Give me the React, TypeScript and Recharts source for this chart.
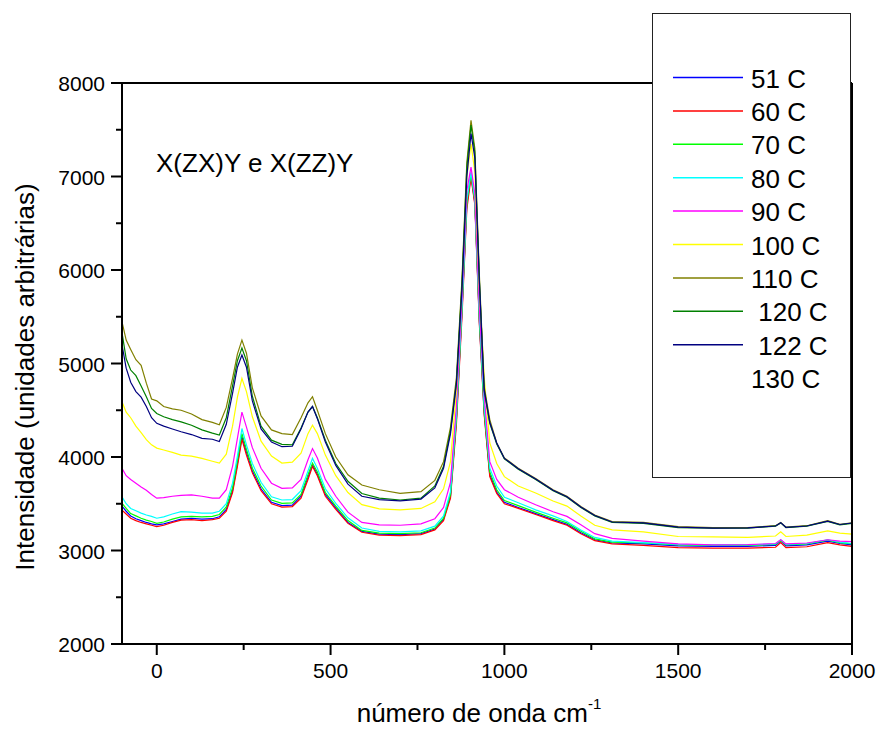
import { LineChart, Line, XAxis, YAxis, ReferenceLine } from "recharts";

const FONT = '"Liberation Sans", Arial, Helvetica, sans-serif';

// número de onda (cm-1)
const wavenumber = [
  -100, -88, -75, -60, -45, -30, -15, 0, 20, 45, 70, 100, 130, 160, 180, 200, 218, 232, 245, 258, 275, 300,
  330, 360, 390, 415, 435, 448, 462, 485, 515, 550, 590, 640, 700, 760, 800, 825, 845, 862, 878, 892, 904,
  915, 928, 942, 958, 978, 1000, 1040, 1090, 1140, 1180, 1220, 1260, 1310, 1400, 1500, 1600, 1700, 1780,
  1795, 1810, 1870, 1930, 1965, 2000,
];

const t51 = [
  3475, 3420, 3370, 3340, 3320, 3300, 3285, 3275, 3285, 3310, 3335, 3345, 3335, 3340, 3360, 3440, 3640, 3930,
  4215, 4050, 3850, 3660, 3515, 3480, 3485, 3580, 3780, 3915, 3815, 3600, 3455, 3300, 3205, 3175, 3170, 3180,
  3230, 3335, 3580, 4400, 5550, 6700, 7010, 6720, 5450, 4470, 3810, 3625, 3515, 3460, 3395, 3330, 3280, 3190,
  3115, 3080, 3070, 3050, 3045, 3045, 3055, 3100, 3050, 3060, 3100, 3075, 3060,
];
const t60 = [
  3430, 3390, 3345, 3320, 3300, 3285, 3270, 3255, 3270, 3300, 3325, 3330, 3320, 3330, 3345, 3420, 3620, 3900,
  4190, 4020, 3830, 3640, 3500, 3465, 3470, 3560, 3760, 3900, 3800, 3580, 3440, 3290, 3195, 3165, 3160, 3170,
  3220, 3320, 3560, 4350, 5500, 6650, 6990, 6700, 5420, 4450, 3790, 3610, 3500, 3450, 3385, 3320, 3270, 3180,
  3105, 3070, 3055, 3030, 3025, 3025, 3035, 3085, 3030, 3040, 3085, 3060, 3045,
];
const t70 = [
  3505, 3450, 3395, 3370, 3345, 3325, 3310, 3290, 3305, 3335, 3360, 3365, 3360, 3365, 3385, 3465, 3670, 3960,
  4250, 4080, 3880, 3690, 3540, 3505, 3510, 3600, 3810, 3935, 3840, 3620, 3475, 3320, 3215, 3185, 3180, 3190,
  3240, 3345, 3600, 4420, 5580, 6720, 7030, 6740, 5480, 4500, 3840, 3650, 3535, 3480, 3410, 3345, 3295, 3205,
  3125, 3090, 3080, 3060, 3055, 3055, 3065, 3110, 3060, 3070, 3110, 3085, 3070,
];
const t80 = [
  3575, 3500, 3450, 3425, 3400, 3380, 3365, 3345, 3360, 3390, 3415, 3410, 3400, 3400, 3420, 3500, 3720, 4010,
  4305, 4130, 3930, 3730, 3575, 3540, 3545, 3640, 3850, 3985, 3880, 3660, 3505, 3350, 3240, 3205, 3200, 3210,
  3260, 3370, 3630, 4450, 5600, 6750, 7050, 6760, 5510, 4540, 3880, 3690, 3570, 3510, 3435, 3370, 3310, 3220,
  3140, 3100, 3085, 3065, 3060, 3060, 3070, 3115, 3065, 3075, 3115, 3090, 3075,
];
const t90 = [
  3880, 3800, 3760, 3720, 3680, 3645, 3600, 3560, 3565, 3580, 3590, 3595, 3580, 3560, 3560, 3650, 3900, 4200,
  4480, 4320, 4100, 3880, 3720, 3665, 3670, 3760, 3970, 4090, 3990, 3760, 3580, 3410, 3300, 3275, 3270, 3285,
  3340, 3460, 3730, 4550, 5700, 6850, 7100, 6820, 5600, 4650, 3950, 3760, 3650, 3570, 3490, 3415, 3365, 3275,
  3180, 3130, 3100, 3070, 3060, 3062, 3075, 3115, 3070, 3080, 3115, 3100, 3094,
];
const t100 = [
  4590, 4480, 4420, 4330, 4260, 4185, 4130, 4095, 4075, 4050, 4020, 4010, 3985, 3955, 3935, 4030, 4330, 4640,
  4840, 4700, 4430, 4170, 4010, 3935, 3945, 4040, 4250, 4340, 4250, 4020, 3800, 3620, 3490, 3445, 3435, 3450,
  3520, 3660, 3950, 4720, 5850, 7000, 7350, 7050, 5800, 4850, 4150, 3930, 3790, 3690, 3615, 3530, 3475, 3370,
  3270, 3220, 3200, 3150, 3145, 3140, 3155, 3200, 3150, 3165, 3210, 3185, 3175,
];
const t110 = [
  5445, 5250, 5150, 5040, 4980, 4790, 4620, 4600, 4540, 4515, 4500, 4460, 4400, 4370, 4345, 4530, 4840, 5100,
  5250, 5110, 4740, 4440, 4290, 4250, 4240, 4420, 4580, 4645, 4500, 4250, 4000, 3810, 3700, 3650, 3610, 3630,
  3750, 3950, 4320, 4850, 5900, 7150, 7600, 7300, 5950, 4750, 4400, 4150, 3990, 3880, 3770, 3650, 3580, 3470,
  3380, 3310, 3300, 3255, 3245, 3245, 3265, 3300, 3250, 3265, 3320, 3280, 3295,
];
const t120 = [
  5330, 5050, 4930, 4870, 4760, 4645, 4520, 4465, 4430, 4400, 4375, 4340, 4290, 4255, 4235, 4420, 4760, 5030,
  5165, 5030, 4650, 4330, 4180, 4135, 4130, 4310, 4480, 4540, 4420, 4180, 3930, 3740, 3610, 3560, 3540, 3560,
  3690, 3900, 4280, 4800, 5850, 7100, 7550, 7260, 5900, 4700, 4360, 4140, 3980, 3870, 3760, 3640, 3570, 3460,
  3370, 3300, 3290, 3245, 3238, 3240, 3260, 3295, 3245, 3260, 3312, 3275, 3290,
];
const t122 = [
  5200, 4950, 4800, 4700, 4640, 4540, 4420, 4360, 4330, 4300, 4270, 4240, 4200, 4190, 4165, 4350, 4680, 4960,
  5090, 4960, 4600, 4300, 4160, 4110, 4115, 4300, 4480, 4540, 4410, 4160, 3910, 3710, 3580, 3545, 3530, 3550,
  3670, 3880, 4250, 4780, 5800, 7000, 7460, 7200, 5880, 4720, 4370, 4150, 3985, 3875, 3765, 3645, 3575, 3465,
  3375, 3305, 3295, 3250, 3240, 3242, 3262, 3298, 3248, 3262, 3315, 3278, 3294,
];

const seriesKeys = ["t51", "t60", "t70", "t80", "t90", "t100", "t110", "t120", "t122"];
const seriesValues = [t51, t60, t70, t80, t90, t100, t110, t120, t122];
const seriesColors = ["#0000ff", "#ff0000", "#00ff00", "#00ffff", "#ff00ff", "#ffff00", "#808000", "#008000", "#000080"];
const legendLabels = ["51 C", "60 C", "70 C", "80 C", "90 C", "100 C", "110 C", " 120 C", " 122 C", "130 C"];

const xTicks = [0, 250, 500, 750, 1000, 1250, 1500, 1750, 2000];
const yTicks = [2000, 2500, 3000, 3500, 4000, 4500, 5000, 5500, 6000, 6500, 7000, 7500, 8000];

const data = wavenumber.map((x, i) => {
  const row: Record<string, number> = { x };
  seriesKeys.forEach((k, j) => {
    row[k] = seriesValues[j][i];
  });
  return row;
});

function XTick({ x, y, payload }: any) {
  const major = payload.value % 500 === 0;
  return (
    <g>
      <line x1={x} x2={x} y1={y} y2={y + (major ? 11 : 6)} stroke="#000" strokeWidth={2} />
      {major && (
        <text x={x} y={y + 34} textAnchor="middle" fontSize={21} fontFamily={FONT} fill="#000">
          {payload.value}
        </text>
      )}
    </g>
  );
}

function YTick({ x, y, payload }: any) {
  const major = payload.value % 1000 === 0;
  return (
    <g>
      <line x1={x - (major ? 11 : 6)} x2={x} y1={y} y2={y} stroke="#000" strokeWidth={2} />
      {major && (
        <text x={x - 17} y={y + 8} textAnchor="end" fontSize={21} fontFamily={FONT} fill="#000">
          {payload.value}
        </text>
      )}
    </g>
  );
}

function RightTick({ x, y }: any) {
  return <line x1={x} x2={x + 4} y1={y} y2={y} stroke="#000" strokeWidth={2} />;
}

function Legend() {
  return (
    <svg
      width={199}
      height={465}
      style={{ position: "absolute", left: 652, top: 13 }}
    >
      <rect x={0.5} y={0.5} width={198} height={464} fill="#fff" stroke="#222" strokeWidth={1} />
      {legendLabels.map((label, i) => (
        <g key={label}>
          {i < seriesColors.length && (
            <line x1={21} x2={91} y1={64.5 + i * 33.4} y2={64.5 + i * 33.4} stroke={seriesColors[i]} strokeWidth={1.5} />
          )}
          <text
            x={99}
            y={74.5 + i * 33.4}
            fontSize={26}
            fontFamily={FONT}
            fill="#000"
            xmlSpace="preserve"
            style={{ whiteSpace: "pre" }}
          >
            {label}
          </text>
        </g>
      ))}
    </svg>
  );
}

export default function App() {
  return (
    <div style={{ position: "absolute", left: 0, top: 0, width: 877, height: 731, background: "#fff" }}>
      <LineChart width={877} height={731} data={data} margin={{ top: 83, right: 5, bottom: 7, left: 22 }}>
        <XAxis
          dataKey="x"
          type="number"
          domain={[-100, 2000]}
          ticks={xTicks}
          allowDataOverflow
          height={80}
          tickSize={0}
          tickMargin={0}
          tick={<XTick />}
          axisLine={{ stroke: "#000", strokeWidth: 2 }}
          interval={0}
        />
        <YAxis
          type="number"
          domain={[2000, 8000]}
          ticks={yTicks}
          allowDataOverflow
          width={100}
          tickSize={0}
          tickMargin={0}
          tick={<YTick />}
          axisLine={{ stroke: "#000", strokeWidth: 2 }}
          interval={0}
        />
        <YAxis
          yAxisId="right"
          orientation="right"
          type="number"
          domain={[2000, 8000]}
          ticks={yTicks}
          width={20}
          tickSize={0}
          tickMargin={0}
          tick={<RightTick />}
          axisLine={{ stroke: "#000", strokeWidth: 2 }}
          interval={0}
        />
        <ReferenceLine y={8000} stroke="#000" strokeWidth={2} />
        {seriesKeys.map((k, j) => (
          <Line
            key={k}
            dataKey={k}
            type="linear"
            stroke={seriesColors[j]}
            strokeWidth={1.2}
            dot={false}
            isAnimationActive={false}
          />
        ))}
      </LineChart>
      <svg width={877} height={731} style={{ position: "absolute", left: 0, top: 0, pointerEvents: "none" }}>
        <text x={156} y={172} fontSize={26} fontFamily={FONT} fill="#000">
          X(ZX)Y e X(ZZ)Y
        </text>
        <text
          x={34}
          y={377}
          fontSize={26}
          fontFamily={FONT}
          fill="#000"
          textAnchor="middle"
          transform="rotate(-90 34 377)"
        >
          Intensidade (unidades arbitrárias)
        </text>
        <text x={479} y={722} fontSize={26} fontFamily={FONT} fill="#000" textAnchor="middle">
          número de onda cm
          <tspan fontSize={15} dy={-13}>
            -1
          </tspan>
        </text>
      </svg>
      <Legend />
    </div>
  );
}
